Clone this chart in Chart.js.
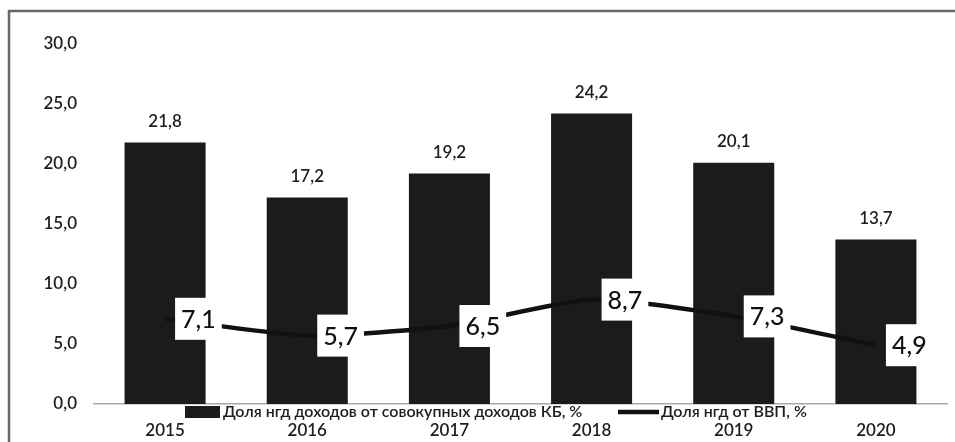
<!DOCTYPE html>
<html lang="ru">
<head>
<meta charset="utf-8">
<title>Доля нгд доходов</title>
<script src="https://cdn.jsdelivr.net/npm/chart.js@4/dist/chart.umd.min.js"></script>
<style>
  html, body { margin: 0; padding: 0; background: #fff; overflow: hidden; }
  canvas { display: block; }
</style>
</head>
<body>
<canvas id="chart" width="955" height="442"></canvas>
<script>
// Years on the category axis
const years = ['2015', '2016', '2017', '2018', '2019', '2020'];
// Share of oil & gas revenues in total consolidated budget revenues, %
const shareOfBudget = [21.8, 17.2, 19.2, 24.2, 20.1, 13.7];
// Share of oil & gas revenues in GDP, %
const shareOfGdp = [7.1, 5.7, 6.5, 8.7, 7.3, 4.9];
// Value axis ticks
const yTicks = [0, 5, 10, 15, 20, 25, 30];

const seriesNames = [
  'Доля нгд доходов от совокупных доходов КБ, %',
  'Доля нгд от ВВП, %'
];

const FONT = 'Lato, "Open Sans", "DejaVu Sans", sans-serif';
const TEXT = '#1e1e1e';
const fmt = (v, d) => v.toFixed(d).replace('.', ',');

// White page with the frame around the figure
const framePlugin = {
  id: 'frame',
  beforeDraw(chart) {
    const ctx = chart.ctx;
    ctx.save();
    ctx.fillStyle = '#fff';
    ctx.fillRect(0, 0, chart.width, chart.height);
    ctx.strokeStyle = '#666';
    ctx.lineWidth = 2.5;
    ctx.strokeRect(9, 11, chart.width + 40, chart.height + 40);
    ctx.restore();
  }
};

// Value labels: above bars, and boxed labels to the right of line points
const valueLabelPlugin = {
  id: 'valueLabels',
  afterDatasetsDraw(chart) {
    const ctx = chart.ctx;
    ctx.save();
    // bar values
    const barMeta = chart.getDatasetMeta(0);
    ctx.fillStyle = TEXT;
    ctx.font = '600 17px ' + FONT;
    ctx.textAlign = 'center';
    ctx.textBaseline = 'middle';
    barMeta.data.forEach((el, i) => {
      const v = chart.data.datasets[0].data[i];
      ctx.fillText(fmt(v, 1), el.x, el.y - 21);
    });
    // line values in white boxes
    const lineMeta = chart.getDatasetMeta(1);
    ctx.font = '500 25px ' + FONT;
    ctx.textAlign = 'left';
    lineMeta.data.forEach((el, i) => {
      const v = chart.data.datasets[1].data[i];
      const s = fmt(v, 1);
      const w = ctx.measureText(s).width;
      const bx = el.x + 10, padX = 6, halfH = 21;
      ctx.fillStyle = '#fff';
      ctx.fillRect(bx, el.y - halfH, w + padX * 2, halfH * 2);
      ctx.fillStyle = '#111';
      ctx.fillText(s, bx + padX, el.y + 1);
    });
    ctx.restore();
  }
};

// Legend drawn in the band between the axis line and the year labels
const legendPlugin = {
  id: 'bandLegend',
  afterDraw(chart) {
    const ctx = chart.ctx;
    const ds = chart.data.datasets;
    const y = 412;
    ctx.save();
    ctx.font = '600 16px ' + FONT;
    ctx.textBaseline = 'middle';
    ctx.textAlign = 'left';
    // bar series swatch
    ctx.fillStyle = ds[0].backgroundColor;
    ctx.fillRect(185, y - 6, 35, 12);
    ctx.fillStyle = TEXT;
    ctx.fillText(ds[0].label, 223, y);
    // line series swatch
    ctx.strokeStyle = ds[1].borderColor;
    ctx.lineWidth = 4.5;
    ctx.beginPath();
    ctx.moveTo(618, y);
    ctx.lineTo(659, y);
    ctx.stroke();
    ctx.fillStyle = TEXT;
    ctx.fillText(ds[1].label, 661, y);
    ctx.restore();
  }
};

new Chart(document.getElementById('chart'), {
  data: {
    labels: years,
    datasets: [
      {
        type: 'bar',
        label: seriesNames[0],
        data: shareOfBudget,
        backgroundColor: '#1b1b1b',
        borderWidth: 0,
        barPercentage: 0.57,
        categoryPercentage: 1.0,
        order: 2
      },
      {
        type: 'line',
        label: seriesNames[1],
        data: shareOfGdp,
        borderColor: '#111',
        borderWidth: 4.5,
        tension: 0.2,
        pointRadius: 0,
        fill: false,
        order: 1
      }
    ]
  },
  options: {
    responsive: false,
    animation: false,
    layout: { padding: { left: 0, right: 8, top: 44, bottom: 0 } },
    plugins: {
      legend: { display: false },
      tooltip: { enabled: false }
    },
    scales: {
      x: {
        grid: { display: false, drawTicks: false },
        border: { display: true, color: '#aaa', width: 1.5 },
        ticks: { color: TEXT, font: { family: FONT, size: 17, weight: '600' }, padding: 16, maxRotation: 0 },
        afterFit(axis) { axis.height = 38; }
      },
      y: {
        min: 0,
        max: 30,
        grid: { display: false, drawTicks: false },
        border: { display: false },
        afterBuildTicks(axis) { axis.ticks = yTicks.map(v => ({ value: v })); },
        ticks: {
          color: TEXT,
          font: { family: FONT, size: 17, weight: '600' },
          padding: 17,
          callback: v => fmt(v, 1)
        },
        afterFit(axis) { axis.width = 94; }
      }
    }
  },
  plugins: [framePlugin, valueLabelPlugin, legendPlugin]
});
</script>
</body>
</html>
